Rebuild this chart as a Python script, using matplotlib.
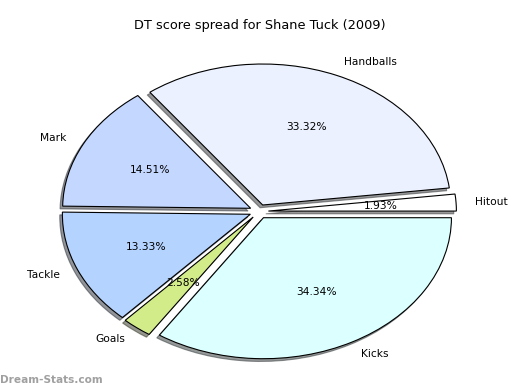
import matplotlib
matplotlib.use("Agg")
import matplotlib.pyplot as plt

labels = ["Hitout", "Handballs", "Mark", "Tackle", "Goals", "Kicks"]
values = [1.93, 33.32, 14.51, 13.33, 2.58, 34.34]
colors = ["#ffffff", "#ebf1ff", "#c4d7ff", "#b4d3ff", "#d2ec8a", "#dcffff"]
explode = [0.05] * len(values)

fig = plt.figure(figsize=(5.2, 3.9), dpi=100)
ax = fig.add_axes([0.0462, 0.0058, 0.9038, 0.9038])
wedges, texts, autotexts = ax.pie(
    values, labels=labels, colors=colors, explode=explode,
    autopct="%1.2f%%", startangle=0,
    shadow={"ox": -0.01, "oy": -0.014, "shade": 0.8},
    wedgeprops=dict(edgecolor="black", linewidth=0.8),
    textprops=dict(fontsize=7.7),
)
ax.set_aspect("auto")
ax.set_xlim(-1.25, 1.25)
ax.set_ylim(-1.25, 1.25)
ax.axis("off")

fig.text(0.5, 1 - 25 / 390, "DT score spread for Shane Tuck (2009)",
         ha="center", va="center", fontsize=9.3)
fig.text(0.0, 1 - 380 / 390, "Dream-Stats.com", ha="left", va="center",
         fontsize=7.6, color="#a0a0a0", fontweight="bold")

fig.savefig("out.png", dpi=100)
